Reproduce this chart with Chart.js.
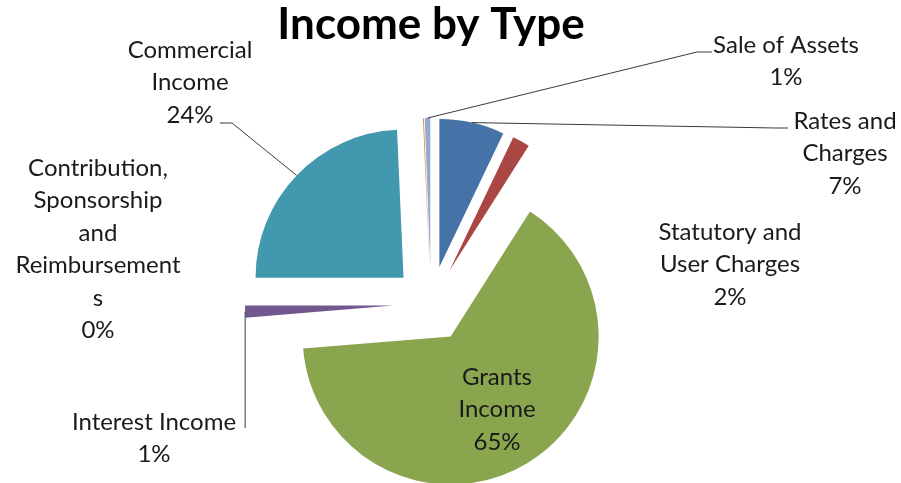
<!DOCTYPE html>
<html>
<head>
<meta charset="utf-8">
<title>Income by Type</title>
<script src="https://cdn.jsdelivr.net/npm/chart.js@4/dist/chart.umd.min.js"></script>
<style>
  html, body { margin: 0; padding: 0; background: #fff; overflow: hidden; }
  #wrap { position: relative; width: 901px; height: 483px; }
</style>
</head>
<body>
<div id="wrap"><canvas id="chart" width="901" height="483"></canvas></div>
<script>
// ---- data ----
const categories = [
  'Rates and Charges',
  'Statutory and User Charges',
  'Grants Income',
  'Interest Income',
  'Commercial Income',
  'Contribution, Sponsorship and Reimbursements',
  'Sale of Assets'
];
const shares = [7.1, 1.9, 64.7, 1.3, 24.3, 0.1, 0.6];
const sliceColors = ['#4572A7', '#AA4643', '#89A54E', '#71588F', '#4198AF', '#DB843D', '#93A9CF'];

// category names as they wrap inside the data labels
const labelLines = [
  ['Rates and', 'Charges'],
  ['Statutory and', 'User Charges'],
  ['Grants', 'Income'],
  ['Interest Income'],
  ['Commercial', 'Income'],
  ['Contribution,', 'Sponsorship', 'and', 'Reimbursement', 's'],
  ['Sale of Assets']
];

// ---- layout ----
const EXPLODE = 38;          // distance every slice is pulled out from the centre
const PIE_RADIUS = 148;
const LABEL_FONT = '24px Lato';
const LINE_STEP = 32.5;
// first-line centre of each label, plus the elbow points of its leader line
const labelLayout = [
  { x: 845, y: 121, leader: [[776, 128], [788, 128]] },
  { x: 730, y: 232 },
  { x: 497, y: 377 },
  { x: 154, y: 422, leader: [[null, 428]] },
  { x: 190, y: 50, leader: [[232, 123], [220, 123]] },
  { x: 98, y: 168 },
  { x: 786, y: 45, leader: [[697, 52], [712, 52]] }
];

const total = shares.reduce((a, b) => a + b, 0);
const pct = v => Math.round(v / total * 100) + '%';

// pulls each arc out along its bisector
const explodeSlices = {
  id: 'explodeSlices',
  afterDatasetsUpdate(chart) {
    chart.getDatasetMeta(0).data.forEach(arc => {
      const mid = (arc.startAngle + arc.endAngle) / 2;
      arc.x += Math.cos(mid) * EXPLODE;
      arc.y += Math.sin(mid) * EXPLODE;
    });
  }
};

// title, data labels and leader lines
const pieLabels = {
  id: 'pieLabels',
  afterDraw(chart) {
    const ctx = chart.ctx;
    ctx.save();
    ctx.fillStyle = '#000';
    ctx.font = 'bold 44px Lato';
    ctx.textAlign = 'center';
    ctx.textBaseline = 'alphabetic';
    ctx.fillText('Income by Type', 431, 39);

    const arcs = chart.getDatasetMeta(0).data;
    ctx.strokeStyle = '#3a3a3a';
    ctx.lineWidth = 1;
    arcs.forEach((arc, i) => {
      const lay = labelLayout[i];
      if (lay.leader) {
        const mid = (arc.startAngle + arc.endAngle) / 2;
        let px = arc.x + Math.cos(mid) * arc.outerRadius;
        let py = arc.y + Math.sin(mid) * arc.outerRadius;
        ctx.beginPath();
        ctx.moveTo(px, py);
        lay.leader.forEach(([lx, ly]) => {
          px = lx === null ? px : lx;
          py = ly === null ? py : ly;
          ctx.lineTo(px, py);
        });
        ctx.stroke();
      }
      const lines = labelLines[i].concat([pct(shares[i])]);
      ctx.fillStyle = '#1a1a1a';
      ctx.font = LABEL_FONT;
      ctx.textBaseline = 'middle';
      lines.forEach((t, k) => ctx.fillText(t, lay.x, lay.y + k * LINE_STEP));
    });
    ctx.restore();
  }
};

new Chart(document.getElementById('chart'), {
  type: 'pie',
  data: {
    labels: categories,
    datasets: [{
      data: shares,
      backgroundColor: sliceColors,
      borderWidth: 0,
      clip: false
    }]
  },
  options: {
    responsive: false,
    animation: false,
    radius: PIE_RADIUS,
    layout: { padding: { left: 0, right: 39, top: 125, bottom: 0 } },
    plugins: {
      legend: { display: false },
      title: { display: false },
      tooltip: { enabled: false }
    },
    events: []
  },
  plugins: [explodeSlices, pieLabels]
});
</script>
</body>
</html>
